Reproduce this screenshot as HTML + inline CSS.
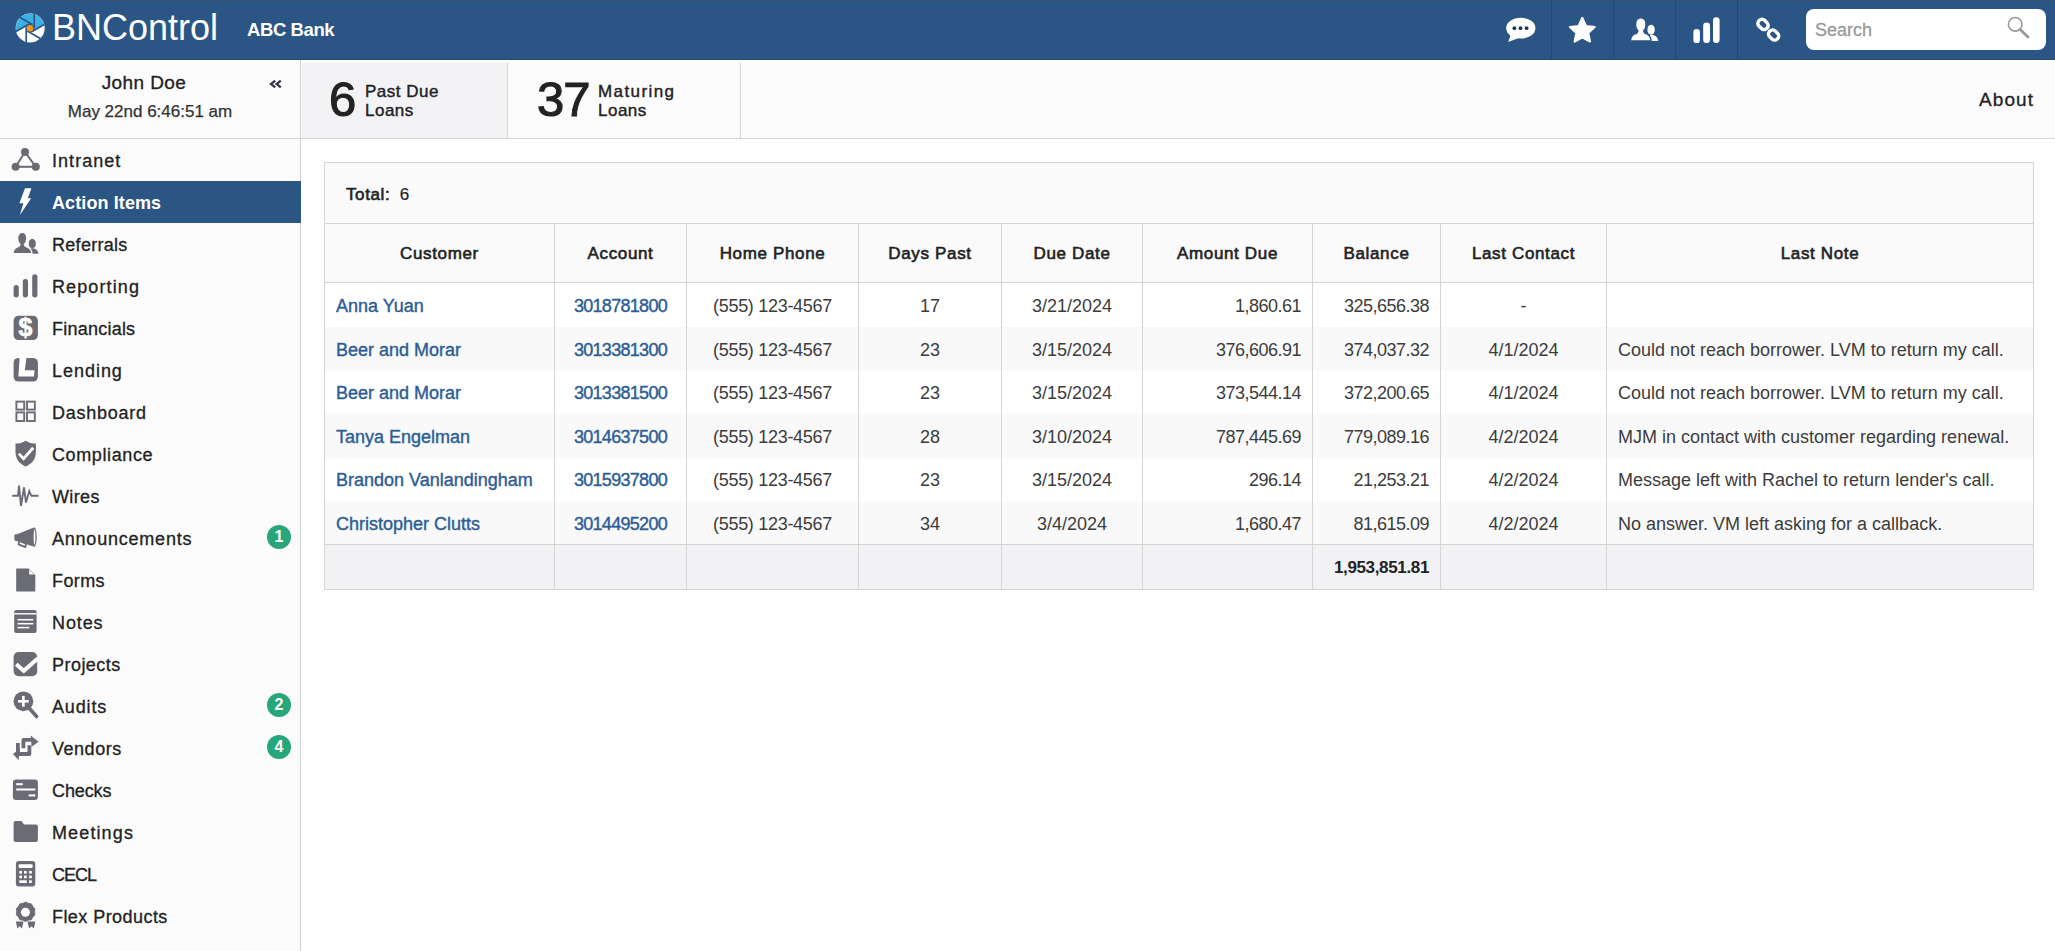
<!DOCTYPE html>
<html><head><meta charset="utf-8">
<style>
*{box-sizing:border-box;margin:0;padding:0}
html,body{width:2055px;height:951px;overflow:hidden;background:#fff;font-family:"Liberation Sans",sans-serif;color:#222}
.abs{position:absolute}
#hdr{position:absolute;left:0;top:0;width:2055px;height:60px;background:#2b5585;border-top:2px solid #2a5590;border-bottom:1px solid #2a466a}
#brand{position:absolute;left:52px;top:6px;font-size:36px;color:#fff;line-height:40px;white-space:nowrap}
#bank{position:absolute;left:247px;top:16.5px;font-size:18.5px;font-weight:700;color:#fff;line-height:22px;letter-spacing:-0.4px;white-space:nowrap}
.hic{position:absolute;top:0;width:62px;height:58px;border-left:1px solid #24496f}
#search{position:absolute;left:1806px;top:7px;width:240px;height:41px;background:#fff;border-radius:8px}
#search span{position:absolute;left:9px;top:10.5px;font-size:18px;color:#9a9a9a;line-height:20px;-webkit-text-stroke:0.3px #9a9a9a}
#side{position:absolute;left:0;top:60px;width:301px;height:891px;background:#fbfbfb;border-right:1px solid #d0d0d0}
#user{position:absolute;left:0;top:0;width:300px;height:79px;border-bottom:1px solid #d6d6d6}
#uname{position:absolute;left:0;width:288px;top:12px;text-align:center;font-size:19px;letter-spacing:0.4px;-webkit-text-stroke:0.3px #222;line-height:22px;color:#222}
#udate{position:absolute;left:0;width:300px;top:42px;text-align:center;font-size:17px;line-height:20px;color:#333;-webkit-text-stroke:0.25px #333}
#coll{position:absolute;left:268px;top:10px;font-size:22px;font-weight:700;color:#555;line-height:20px}
.nav{position:absolute;left:0;width:301px;height:42px}
.nav .t{position:absolute;left:52px;top:12px;font-size:18px;letter-spacing:0.8px;-webkit-text-stroke:0.3px #222;line-height:20px;color:#222;white-space:nowrap}
.nav svg{position:absolute;left:0;top:0;width:50px;height:42px}
.nav.act{background:#2b5583}
.nav.act .t{color:#fff;font-weight:700;letter-spacing:0.1px;top:11.5px;-webkit-text-stroke:0}
.badge{position:absolute;left:267px;top:8px;width:24px;height:24px;border-radius:12px;background:#27a67a;color:#fff;font-size:16px;font-weight:700;text-align:center;line-height:24px}
#stats{position:absolute;left:301px;top:60px;width:1754px;height:79px;background:#fbfbfb;border-bottom:1px solid #d4d4d4}
.panel{position:absolute;top:3px;height:75px;border-right:1px solid #d4d4d4}
.big{position:absolute;font-size:49px;line-height:50px;color:#222;-webkit-text-stroke:1.1px #222}
.lbl{position:absolute;font-size:17px;line-height:19px;color:#222;letter-spacing:0.5px;-webkit-text-stroke:0.4px #222}
#about{position:absolute;left:1678px;top:29px;font-size:19px;line-height:22px;color:#222;letter-spacing:1.1px;-webkit-text-stroke:0.3px #222}
#tbl{position:absolute;left:324px;top:162px;width:1710px;height:428px}
#tbl .r{position:absolute}
#tbl .tx{position:absolute;white-space:nowrap}
#tbl .th{position:absolute;top:62px;height:59px;line-height:59px;text-align:center;font-size:17px;font-weight:400;letter-spacing:0.65px;-webkit-text-stroke:0.6px #222;color:#222;white-space:nowrap}
#tbl .td{position:absolute;white-space:nowrap;font-size:18px;color:#3c3c3c;padding:2px 11px 0 11px}
#tbl .td.l{text-align:left;padding-left:11px}
#tbl .td.c{text-align:center;padding:2px 0 0 0}
#tbl .td.r{text-align:right}
#tbl .lnk,#tbl .acct{color:#2d5d95;-webkit-text-stroke:0.4px #2d5d95}
#tbl .acct{letter-spacing:-0.7px}
#tbl .ph{letter-spacing:-0.3px}
#tbl .amt{letter-spacing:-0.5px}
#tbl .ft{font-weight:700;font-size:17px;color:#222;letter-spacing:-0.35px}
</style></head><body>
<div id="hdr">
  <div class="abs" style="left:0;top:-2px;width:2055px;height:1px;background:#38546a"></div>
  <svg class="abs" style="left:0;top:-2px" width="60" height="60" viewBox="0 0 60 60">
<circle cx="30.2" cy="28" r="14.5" fill="#fff"/>
<path fill="#3cb1e6" d="M16.13,31.50 L28.20,24.54 L32.20,24.54 L34.20,28.00 L32.20,31.46 L44.27,24.50 A14.5,14.5 0 0 0 16.13,31.50 Z"/>
<g stroke="#2b5583" stroke-width="1.7" fill="none"><line x1="34.20" y1="28.00" x2="34.20" y2="14.06"/><line x1="32.20" y1="31.46" x2="44.27" y2="24.50"/><line x1="28.20" y1="31.46" x2="40.27" y2="38.43"/><line x1="26.20" y1="28.00" x2="26.20" y2="41.94"/><line x1="28.20" y1="24.54" x2="16.13" y2="31.50"/><line x1="32.20" y1="24.54" x2="20.13" y2="17.57"/></g>
<circle cx="30" cy="28.2" r="4.4" fill="#2b5583"/>
<circle cx="30" cy="28.2" r="3.3" fill="#f7941d"/>
</svg>
  <div id="brand">BNControl</div>
  <div id="bank">ABC Bank</div>
  <svg class="abs" style="left:1480px;top:-2px" width="320" height="60" viewBox="1480 0 320 60">
<g fill="#24486f"><rect x="1551" y="0" width="1" height="60"/><rect x="1613" y="0" width="1" height="60"/><rect x="1675" y="0" width="1" height="60"/><rect x="1737" y="0" width="1" height="60"/></g>
<g fill="#fff">
<ellipse cx="1520.8" cy="28.2" rx="14.6" ry="10.4"/>
<polygon points="1511,34 1508.2,42 1520,37.5"/>
</g>
<g fill="#1d3653"><circle cx="1514.4" cy="28.2" r="1.9"/><circle cx="1520.5" cy="28.2" r="1.9"/><circle cx="1526.6" cy="28.2" r="1.9"/></g>
<polygon fill="#fff" stroke="#fff" stroke-width="2.2" stroke-linejoin="round" points="1582.30,18.00 1585.94,25.98 1594.66,26.98 1588.20,32.92 1589.94,41.52 1582.30,37.20 1574.66,41.52 1576.40,32.92 1569.94,26.98 1578.66,25.98"/>
<g fill="#fff">
<ellipse cx="1651.1" cy="29.8" rx="3.7" ry="5"/>
<path d="M1646.5,40.9 C1647,36.5 1649,34.8 1651.5,34.8 C1655,34.8 1657.5,37 1658.3,40.9 Z"/>
</g>
<path fill="#fff" stroke="#2b5583" stroke-width="1.3" d="M1630.3,40.9 C1630.6,36.5 1633,34 1637,33 L1638,31 C1636.4,29.4 1635.6,27.2 1635.6,24.6 C1635.6,20.4 1637.8,17.8 1640.8,17.8 C1643.8,17.8 1646,20.4 1646,24.6 C1646,27.2 1645.2,29.4 1643.6,31 L1644.6,33 C1648.6,34 1650.8,36.5 1651.1,40.9 Z"/>
<g fill="#fff"><rect x="1693.4" y="29.1" width="6.5" height="14" rx="3.2"/><rect x="1703.2" y="22.5" width="6.8" height="20.6" rx="3.3"/><rect x="1713" y="17.3" width="6.6" height="25.8" rx="3.3"/></g>
<g fill="none" stroke="#fff" stroke-width="3.4">
<rect x="-5.4" y="-4" width="10.8" height="8" rx="3.6" transform="translate(1763,24.4) rotate(45)"/>
<rect x="-5.4" y="-4" width="10.8" height="8" rx="3.6" transform="translate(1773.6,35) rotate(45)"/>
</g>

</svg>
  <div id="search"><span>Search</span><svg class="abs" style="left:0;top:0" width="240" height="41" viewBox="1806 9 240 41"><circle cx="2015.2" cy="24.3" r="6.8" fill="none" stroke="#9a9a9a" stroke-width="1.6"/><line x1="2020.2" y1="29.5" x2="2028" y2="37" stroke="#9a9a9a" stroke-width="2.8" stroke-linecap="round"/></svg></div>
</div>
<div id="side">
  <div id="user"><div id="uname">John Doe</div><div id="udate">May 22nd 6:46:51 am</div><svg class="abs" style="left:260px;top:15px" width="30" height="20" viewBox="260 75 30 20"><g fill="none" stroke="#3a3a4a" stroke-width="2.3" stroke-linejoin="miter"><polyline points="275.2,80.6 271,84 275.2,87.3"/><polyline points="280.8,80.6 276.6,84 280.8,87.3"/></g></svg></div>
  <div id="navs">
<div class="nav" style="top:79px"><svg viewBox="0 0 50 42" width="50" height="42"><g stroke="#6b6b76" stroke-width="2"><line x1="25" y1="13" x2="15.6" y2="27.8"/><line x1="25" y1="13" x2="35.8" y2="27.8"/><line x1="15.6" y1="27.8" x2="35.8" y2="27.8"/></g><g fill="#6b6b76"><circle cx="25" cy="13" r="4"/><circle cx="15.6" cy="27.8" r="4"/><circle cx="35.8" cy="27.8" r="4"/></g></svg><div class="t" style="letter-spacing:1.04px">Intranet</div></div>
<div class="nav act" style="top:121px"><svg viewBox="0 0 50 42" width="50" height="42"><polygon fill="#fff" points="25,7.2 31.4,7.2 27.9,17.3 31.2,17.3 19.8,34.2 23.4,22.2 19.4,22.2"/></svg><div class="t">Action Items</div></div>
<div class="nav" style="top:163px"><svg viewBox="0 0 50 42" width="50" height="42"><ellipse cx="32.3" cy="20.6" rx="3.5" ry="4.6" fill="#6b6b76"/><path d="M27.5,30.7 C28,27 30,25.2 32.5,25.2 C35.5,25.2 38,27.5 38.6,30.7 Z" fill="#6b6b76"/><path d="M12.9,30.7 C13.2,26.5 15.5,24.2 18.8,23.4 L20,21.5 C18.5,20 17.6,18 17.6,15.5 C17.6,11.8 19.5,9.4 22.2,9.4 C24.9,9.4 26.8,11.8 26.8,15.5 C26.8,18 25.9,20 24.4,21.5 L25.6,23.4 C28.9,24.2 31.5,26.5 32,30.7 Z" fill="#6b6b76" stroke="#fafafa" stroke-width="1.3"/></svg><div class="t" style="letter-spacing:0.29px">Referrals</div></div>
<div class="nav" style="top:205px"><svg viewBox="0 0 50 42" width="50" height="42"><g fill="#6b6b76"><rect x="13.6" y="19.9" width="5.2" height="12.5" rx="2.6"/><rect x="22.8" y="14" width="5.2" height="18.4" rx="2.6"/><rect x="32.2" y="9.3" width="5.2" height="23.1" rx="2.6"/></g></svg><div class="t" style="letter-spacing:1.11px">Reporting</div></div>
<div class="nav" style="top:247px"><svg viewBox="0 0 50 42" width="50" height="42"><rect x="13.6" y="8.8" width="24.3" height="24.3" rx="5" fill="#6b6b76"/><text x="25.4" y="29.2" text-anchor="middle" font-family="Liberation Sans" font-weight="700" font-size="25" fill="#fff" stroke="#fff" stroke-width="0.6">$</text></svg><div class="t" style="letter-spacing:0.23px">Financials</div></div>
<div class="nav" style="top:289px"><svg viewBox="0 0 50 42" width="50" height="42"><rect x="13.6" y="8.9" width="24.3" height="23.7" rx="5" fill="#6b6b76"/><polygon fill="#fff" points="19.6,8.9 26.4,8.9 24.8,21.2 34.5,21.2 34,27.4 18.4,27.4"/></svg><div class="t" style="letter-spacing:0.97px">Lending</div></div>
<div class="nav" style="top:331px"><svg viewBox="0 0 50 42" width="50" height="42"><g fill="none" stroke="#6b6b76" stroke-width="1.9"><rect x="16.4" y="10.6" width="7.8" height="8"/><rect x="27" y="10.6" width="7.8" height="8"/><rect x="16.4" y="21.4" width="7.8" height="8.6"/><rect x="27" y="21.4" width="7.8" height="8.6"/></g></svg><div class="t" style="letter-spacing:0.74px">Dashboard</div></div>
<div class="nav" style="top:373px"><svg viewBox="0 0 50 42" width="50" height="42"><path fill="#6b6b76" d="M25.7,7.8 C22.5,9.8 19.5,10.6 15.5,10.6 L15.5,19 C15.5,26 19.5,31 25.7,33.4 C31.9,31 35.9,26 35.9,19 L35.9,10.6 C31.9,10.6 28.9,9.8 25.7,7.8 Z"/><polyline points="18.8,20.6 23.6,25.6 33.2,14.8" fill="none" stroke="#fff" stroke-width="2.8"/></svg><div class="t" style="letter-spacing:0.61px">Compliance</div></div>
<div class="nav" style="top:415px"><svg viewBox="0 0 50 42" width="50" height="42"><polyline fill="none" stroke="#6b6b76" stroke-width="1.9" stroke-linejoin="miter" points="12.2,20.8 18,20.8 19,10.5 21,30.9 24,12.5 26,27.5 29.3,16 31.3,20.8 38.6,20.8"/></svg><div class="t" style="letter-spacing:0.38px">Wires</div></div>
<div class="nav" style="top:457px"><svg viewBox="0 0 50 42" width="50" height="42"><path fill="#6b6b76" d="M14.4,18.6 Q14.4,17.2 15.8,17.2 L17.2,17.2 L33.2,10.8 L33.2,29.4 L17.2,23.9 L15.8,23.9 Q14.4,23.9 14.4,22.5 Z"/><ellipse cx="34.3" cy="20.1" rx="2.4" ry="9.8" fill="#6b6b76"/><ellipse cx="34.5" cy="20.1" rx="0.9" ry="7.6" fill="#fff"/><polygon points="19.2,23.8 26,26.6 25.4,30.2 18.6,27.4" fill="#fff" stroke="#6b6b76" stroke-width="1.8" stroke-linejoin="round"/></svg><div class="t" style="letter-spacing:0.78px">Announcements</div><div class="badge">1</div></div>
<div class="nav" style="top:499px"><svg viewBox="0 0 50 42" width="50" height="42"><path fill="#6b6b76" d="M16.2,9.4 L28.6,9.4 L35.3,16.1 L35.3,32.4 L16.2,32.4 Z"/><polygon fill="#fff" points="29.2,10.4 34.3,15.5 29.2,15.5"/></svg><div class="t" style="letter-spacing:0.40px">Forms</div></div>
<div class="nav" style="top:541px"><svg viewBox="0 0 50 42" width="50" height="42"><rect x="14.2" y="8.9" width="22.4" height="23" rx="2" fill="#6b6b76"/><g stroke="#fff" stroke-width="1.5"><line x1="14.2" y1="12.8" x2="36.6" y2="12.8" stroke-width="1.4"/><line x1="17.5" y1="18.7" x2="33.3" y2="18.7"/><line x1="17.5" y1="22.7" x2="33.3" y2="22.7"/><line x1="17.5" y1="26.6" x2="29.3" y2="26.6"/></g></svg><div class="t" style="letter-spacing:0.89px">Notes</div></div>
<div class="nav" style="top:583px"><svg viewBox="0 0 50 42" width="50" height="42"><rect x="13.6" y="9" width="23.6" height="24.3" rx="5" fill="#6b6b76"/><polyline points="16.2,21.2 23.8,27.8 37.8,15.4" fill="none" stroke="#fff" stroke-width="4"/></svg><div class="t" style="letter-spacing:0.46px">Projects</div></div>
<div class="nav" style="top:625px"><svg viewBox="0 0 50 42" width="50" height="42"><line x1="29.5" y1="23.5" x2="36.6" y2="31.5" stroke="#6b6b76" stroke-width="3.6" stroke-linecap="round"/><circle cx="23.4" cy="16.3" r="9.9" fill="#6b6b76"/><g stroke="#fff" stroke-width="2.6"><line x1="18" y1="16.3" x2="28.8" y2="16.3"/><line x1="23.4" y1="10.9" x2="23.4" y2="21.7"/></g></svg><div class="t" style="letter-spacing:0.86px">Audits</div><div class="badge">2</div></div>
<div class="nav" style="top:667px"><svg viewBox="0 0 50 42" width="50" height="42"><g fill="none" stroke="#6b6b76" stroke-width="3.8" stroke-linejoin="round"><path d="M23.4,21.2 V12.9 H31.5"/><path d="M29.4,18.2 V27 H18.5"/><path d="M17.9,16 V27"/></g><g fill="#6b6b76"><polygon points="30.6,8.4 38.6,14.8 31.6,19.8"/><polygon points="20,21.6 12.9,27 18.6,32.9"/></g></svg><div class="t" style="letter-spacing:0.53px">Vendors</div><div class="badge">4</div></div>
<div class="nav" style="top:709px"><svg viewBox="0 0 50 42" width="50" height="42"><rect x="12.9" y="10.6" width="25" height="20.4" rx="3.2" fill="#6b6b76"/><g stroke="#fff" stroke-width="2"><line x1="16.2" y1="15.2" x2="22.8" y2="15.2"/><line x1="16.2" y1="20.5" x2="35.3" y2="20.5"/><line x1="28.7" y1="26.4" x2="35.3" y2="26.4"/></g></svg><div class="t" style="letter-spacing:-0.11px">Checks</div></div>
<div class="nav" style="top:751px"><svg viewBox="0 0 50 42" width="50" height="42"><path fill="#6b6b76" d="M13.6,12 Q13.6,10 15.6,10 L21.5,10 L24,13.6 L35.9,13.6 Q37.9,13.6 37.9,15.6 L37.9,29.1 Q37.9,31.1 35.9,31.1 L15.6,31.1 Q13.6,31.1 13.6,29.1 Z"/></svg><div class="t" style="letter-spacing:1.12px">Meetings</div></div>
<div class="nav" style="top:793px"><svg viewBox="0 0 50 42" width="50" height="42"><rect x="15.9" y="7.9" width="19.4" height="25.5" rx="3" fill="#6b6b76"/><rect x="18.6" y="11.2" width="14" height="3.8" rx="1" fill="#fff"/><g fill="#fff"><rect x="19.3" y="17.9" width="2.7" height="2.7"/><rect x="24" y="17.9" width="2.7" height="2.7"/><rect x="29.1" y="17.9" width="2.7" height="2.7"/><rect x="19.3" y="22.6" width="2.7" height="2.7"/><rect x="24" y="22.6" width="2.7" height="2.7"/><rect x="29.1" y="22.6" width="2.7" height="2.7"/><rect x="19.3" y="27.3" width="7.4" height="2.7"/><rect x="29.1" y="27.3" width="2.7" height="2.7"/></g></svg><div class="t" style="letter-spacing:-1.00px">CECL</div></div>
<div class="nav" style="top:835px"><svg viewBox="0 0 50 42" width="50" height="42"><g fill="#6b6b76"><polygon points="15.8,26.4 23.6,26.4 21.9,33.6 19.7,31.3 17.4,33.6"/><polygon points="27.4,26.4 35.4,26.4 33.8,33.6 31.6,31.3 29.2,33.6"/></g><polygon fill="#6b6b76" stroke="#fbfbfb" stroke-width="1.4" stroke-linejoin="round" points="25.60,7.00 28.35,8.34 31.36,8.87 32.80,11.57 34.92,13.77 34.50,16.80 34.92,19.83 32.80,22.03 31.36,24.73 28.35,25.26 25.60,26.60 22.85,25.26 19.84,24.73 18.40,22.03 16.28,19.83 16.70,16.80 16.28,13.77 18.40,11.57 19.84,8.87 22.85,8.34"/><polygon fill="#6b6b76" stroke="#6b6b76" stroke-width="0.8" stroke-linejoin="round" points="25.60,7.00 28.35,8.34 31.36,8.87 32.80,11.57 34.92,13.77 34.50,16.80 34.92,19.83 32.80,22.03 31.36,24.73 28.35,25.26 25.60,26.60 22.85,25.26 19.84,24.73 18.40,22.03 16.28,19.83 16.70,16.80 16.28,13.77 18.40,11.57 19.84,8.87 22.85,8.34"/><circle cx="25.4" cy="17.2" r="4.5" fill="#fff"/></svg><div class="t" style="letter-spacing:0.44px">Flex Products</div></div>
</div>
</div>
<div id="stats">
  <div class="panel" style="left:1px;width:206px;background:#f3f3f5"></div>
  <div class="panel" style="left:207px;width:233px"></div>
  <div class="big" style="left:28px;top:13.5px">6</div>
  <div class="lbl" style="left:64px;top:21.5px">Past Due<br>Loans</div>
  <div class="big" style="left:236px;top:13.5px;letter-spacing:-1px">37</div>
  <div class="lbl" style="left:297px;top:21.5px;letter-spacing:1.4px"><span>Maturing</span><br><span style="letter-spacing:0.5px">Loans</span></div>
  <div id="about">About</div>
</div>
<div id="tbl">
<div class="r" style="left:0px;top:0px;width:1710px;height:428px;background:#fafafa"></div>
<div class="r" style="left:1px;top:121px;width:1708px;height:44px;background:#fff"></div>
<div class="r" style="left:1px;top:165px;width:1708px;height:44px;background:#f9f9f9"></div>
<div class="r" style="left:1px;top:209px;width:1708px;height:43px;background:#fff"></div>
<div class="r" style="left:1px;top:252px;width:1708px;height:44px;background:#f9f9f9"></div>
<div class="r" style="left:1px;top:296px;width:1708px;height:44px;background:#fff"></div>
<div class="r" style="left:1px;top:340px;width:1708px;height:42px;background:#f9f9f9"></div>
<div class="r" style="left:1px;top:383px;width:1708px;height:44px;background:#f2f2f4"></div>
<div class="r" style="left:0px;top:0px;width:1710px;height:1px;background:#d4d4d4"></div>
<div class="r" style="left:0px;top:61px;width:1710px;height:1px;background:#d4d4d4"></div>
<div class="r" style="left:0px;top:120px;width:1710px;height:1px;background:#d4d4d4"></div>
<div class="r" style="left:0px;top:382px;width:1710px;height:1px;background:#d4d4d4"></div>
<div class="r" style="left:0px;top:427px;width:1710px;height:1px;background:#d4d4d4"></div>
<div class="r" style="left:0px;top:0px;width:1px;height:428px;background:#d4d4d4"></div>
<div class="r" style="left:1709px;top:0px;width:1px;height:428px;background:#d4d4d4"></div>
<div class="r" style="left:230px;top:61px;width:1px;height:366px;background:#d4d4d4"></div>
<div class="r" style="left:362px;top:61px;width:1px;height:366px;background:#d4d4d4"></div>
<div class="r" style="left:534px;top:61px;width:1px;height:366px;background:#d4d4d4"></div>
<div class="r" style="left:677px;top:61px;width:1px;height:366px;background:#d4d4d4"></div>
<div class="r" style="left:818px;top:61px;width:1px;height:366px;background:#d4d4d4"></div>
<div class="r" style="left:988px;top:61px;width:1px;height:366px;background:#d4d4d4"></div>
<div class="r" style="left:1116px;top:61px;width:1px;height:366px;background:#d4d4d4"></div>
<div class="r" style="left:1282px;top:61px;width:1px;height:366px;background:#d4d4d4"></div>
<div class="tx" style="left:22px;top:2.5px;height:60px;line-height:60px;font-size:17px;color:#222;-webkit-text-stroke:0.2px #222"><span style="letter-spacing:0.6px;-webkit-text-stroke:0.6px #222">Total:</span>&nbsp; 6</div>
<div class="th" style="left:1px;width:229px">Customer</div>
<div class="th" style="left:231px;width:131px">Account</div>
<div class="th" style="left:363px;width:171px">Home Phone</div>
<div class="th" style="left:535px;width:142px">Days Past</div>
<div class="th" style="left:678px;width:140px">Due Date</div>
<div class="th" style="left:819px;width:169px">Amount Due</div>
<div class="th" style="left:989px;width:127px">Balance</div>
<div class="th" style="left:1117px;width:165px">Last Contact</div>
<div class="th" style="left:1283px;width:426px">Last Note</div>
<div class="td l lnk" style="left:1px;width:229px;top:121px;height:43px;line-height:43px">Anna Yuan</div>
<div class="td c acct" style="left:231px;width:131px;top:121px;height:43px;line-height:43px">3018781800</div>
<div class="td c ph" style="left:363px;width:171px;top:121px;height:43px;line-height:43px">(555) 123-4567</div>
<div class="td c " style="left:535px;width:142px;top:121px;height:43px;line-height:43px">17</div>
<div class="td c " style="left:678px;width:140px;top:121px;height:43px;line-height:43px">3/21/2024</div>
<div class="td r amt" style="left:819px;width:169px;top:121px;height:43px;line-height:43px">1,860.61</div>
<div class="td r amt" style="left:989px;width:127px;top:121px;height:43px;line-height:43px">325,656.38</div>
<div class="td c " style="left:1117px;width:165px;top:121px;height:43px;line-height:43px">-</div>
<div class="td l " style="left:1283px;width:426px;top:121px;height:43px;line-height:43px"></div>
<div class="td l lnk" style="left:1px;width:229px;top:164px;height:44px;line-height:44px">Beer and Morar</div>
<div class="td c acct" style="left:231px;width:131px;top:164px;height:44px;line-height:44px">3013381300</div>
<div class="td c ph" style="left:363px;width:171px;top:164px;height:44px;line-height:44px">(555) 123-4567</div>
<div class="td c " style="left:535px;width:142px;top:164px;height:44px;line-height:44px">23</div>
<div class="td c " style="left:678px;width:140px;top:164px;height:44px;line-height:44px">3/15/2024</div>
<div class="td r amt" style="left:819px;width:169px;top:164px;height:44px;line-height:44px">376,606.91</div>
<div class="td r amt" style="left:989px;width:127px;top:164px;height:44px;line-height:44px">374,037.32</div>
<div class="td c " style="left:1117px;width:165px;top:164px;height:44px;line-height:44px">4/1/2024</div>
<div class="td l " style="left:1283px;width:426px;top:164px;height:44px;line-height:44px">Could not reach borrower. LVM to return my call.</div>
<div class="td l lnk" style="left:1px;width:229px;top:208px;height:43px;line-height:43px">Beer and Morar</div>
<div class="td c acct" style="left:231px;width:131px;top:208px;height:43px;line-height:43px">3013381500</div>
<div class="td c ph" style="left:363px;width:171px;top:208px;height:43px;line-height:43px">(555) 123-4567</div>
<div class="td c " style="left:535px;width:142px;top:208px;height:43px;line-height:43px">23</div>
<div class="td c " style="left:678px;width:140px;top:208px;height:43px;line-height:43px">3/15/2024</div>
<div class="td r amt" style="left:819px;width:169px;top:208px;height:43px;line-height:43px">373,544.14</div>
<div class="td r amt" style="left:989px;width:127px;top:208px;height:43px;line-height:43px">372,200.65</div>
<div class="td c " style="left:1117px;width:165px;top:208px;height:43px;line-height:43px">4/1/2024</div>
<div class="td l " style="left:1283px;width:426px;top:208px;height:43px;line-height:43px">Could not reach borrower. LVM to return my call.</div>
<div class="td l lnk" style="left:1px;width:229px;top:251px;height:44px;line-height:44px">Tanya Engelman</div>
<div class="td c acct" style="left:231px;width:131px;top:251px;height:44px;line-height:44px">3014637500</div>
<div class="td c ph" style="left:363px;width:171px;top:251px;height:44px;line-height:44px">(555) 123-4567</div>
<div class="td c " style="left:535px;width:142px;top:251px;height:44px;line-height:44px">28</div>
<div class="td c " style="left:678px;width:140px;top:251px;height:44px;line-height:44px">3/10/2024</div>
<div class="td r amt" style="left:819px;width:169px;top:251px;height:44px;line-height:44px">787,445.69</div>
<div class="td r amt" style="left:989px;width:127px;top:251px;height:44px;line-height:44px">779,089.16</div>
<div class="td c " style="left:1117px;width:165px;top:251px;height:44px;line-height:44px">4/2/2024</div>
<div class="td l " style="left:1283px;width:426px;top:251px;height:44px;line-height:44px">MJM in contact with customer regarding renewal.</div>
<div class="td l lnk" style="left:1px;width:229px;top:295px;height:43px;line-height:43px">Brandon Vanlandingham</div>
<div class="td c acct" style="left:231px;width:131px;top:295px;height:43px;line-height:43px">3015937800</div>
<div class="td c ph" style="left:363px;width:171px;top:295px;height:43px;line-height:43px">(555) 123-4567</div>
<div class="td c " style="left:535px;width:142px;top:295px;height:43px;line-height:43px">23</div>
<div class="td c " style="left:678px;width:140px;top:295px;height:43px;line-height:43px">3/15/2024</div>
<div class="td r amt" style="left:819px;width:169px;top:295px;height:43px;line-height:43px">296.14</div>
<div class="td r amt" style="left:989px;width:127px;top:295px;height:43px;line-height:43px">21,253.21</div>
<div class="td c " style="left:1117px;width:165px;top:295px;height:43px;line-height:43px">4/2/2024</div>
<div class="td l " style="left:1283px;width:426px;top:295px;height:43px;line-height:43px">Message left with Rachel to return lender&#39;s call.</div>
<div class="td l lnk" style="left:1px;width:229px;top:338px;height:44px;line-height:44px">Christopher Clutts</div>
<div class="td c acct" style="left:231px;width:131px;top:338px;height:44px;line-height:44px">3014495200</div>
<div class="td c ph" style="left:363px;width:171px;top:338px;height:44px;line-height:44px">(555) 123-4567</div>
<div class="td c " style="left:535px;width:142px;top:338px;height:44px;line-height:44px">34</div>
<div class="td c " style="left:678px;width:140px;top:338px;height:44px;line-height:44px">3/4/2024</div>
<div class="td r amt" style="left:819px;width:169px;top:338px;height:44px;line-height:44px">1,680.47</div>
<div class="td r amt" style="left:989px;width:127px;top:338px;height:44px;line-height:44px">81,615.09</div>
<div class="td c " style="left:1117px;width:165px;top:338px;height:44px;line-height:44px">4/2/2024</div>
<div class="td l " style="left:1283px;width:426px;top:338px;height:44px;line-height:44px">No answer. VM left asking for a callback.</div>
<div class="td r ft" style="left:989px;width:127px;top:381.5px;height:44px;line-height:44px">1,953,851.81</div>
</div>
</body></html>
